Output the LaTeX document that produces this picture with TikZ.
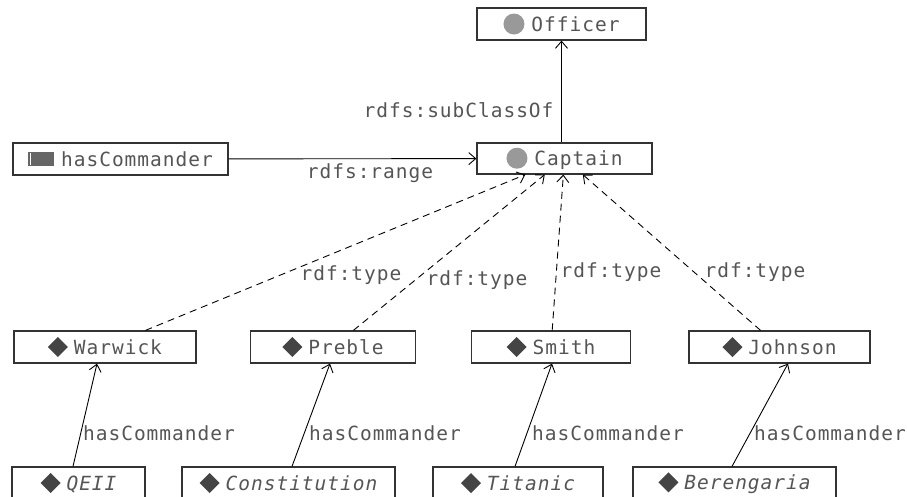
\documentclass[tikz,border=0pt]{standalone}
\usepackage{fontspec}
\setmonofont[LetterSpace=5]{DejaVu Sans Mono}
\usepackage{xcolor}
\usetikzlibrary{arrows.meta}

\definecolor{inkgray}{HTML}{555555}
\definecolor{boxgray}{HTML}{333333}
\definecolor{dotgray}{HTML}{999999}
\definecolor{diagray}{HTML}{444444}
\definecolor{rectgray}{HTML}{666666}

\newcommand{\classdot}{\tikz[baseline=-7pt]\fill[dotgray] (0pt,0pt) circle (10.5pt);}
\newcommand{\indivmark}{\tikz[baseline=-7pt]\fill[diagray] (0pt,10pt) -- (10pt,0pt) -- (0pt,-10pt) -- (-10pt,0pt) -- cycle;}
\newcommand{\propmark}{\tikz[baseline=-7pt]{\fill[rectgray] (0pt,-7pt) rectangle (26pt,7pt);
    \draw[white, line width=0.8pt] (2.6pt,-6pt) -- (2.6pt,6pt);}}

\begin{document}
\begin{tikzpicture}[x=1pt, y=-1pt,
    every node/.style={font=\ttfamily\fontsize{19.5}{23}\selectfont, text=inkgray},
    box/.style={draw=boxgray, line width=1.2pt, fill=white, inner sep=0pt, minimum height=32pt},
    link/.style={draw=black, line width=0.9pt, -{Straight Barb[length=7pt,width=12pt]}},
    typelink/.style={link, dash pattern=on 7pt off 5pt}]
    \useasboundingbox (0,0) rectangle (907,496);

    % classes and property
    \node[box, minimum width=169pt] (officer) at (561.5, 24) {\classdot\hspace{7pt}Officer};
    \node[box, minimum width=175pt, minimum height=31pt] (captain) at (564.5, 158.5) {\classdot\hspace{7pt}Captain};
    \node[box, minimum width=215pt] (hascmd) at (120.5, 159) {\propmark\hspace{7pt}hasCommander};

    % officers
    \node[box, minimum width=182pt] (warwick) at (105, 347) {\indivmark\hspace{6pt}Warwick};
    \node[box, minimum width=165pt] (preble) at (333, 347) {\indivmark\hspace{6pt}Preble};
    \node[box, minimum width=159pt] (smith) at (551, 347) {\indivmark\hspace{6pt}Smith};
    \node[box, minimum width=181pt] (johnson) at (779.5, 347) {\indivmark\hspace{6pt}Johnson};

    % ships
    \node[box, minimum width=133pt] (qeii) at (78.5, 483) {\indivmark\hspace{6pt}\itshape QEII};
    \node[box, minimum width=213pt] (constitution) at (288.5, 483) {\indivmark\hspace{6pt}\itshape Constitution};
    \node[box, minimum width=170pt] (titanic) at (518, 483) {\indivmark\hspace{6pt}\itshape Titanic};
    \node[box, minimum width=203pt] (berengaria) at (734.5, 483) {\indivmark\hspace{6pt}\itshape Berengaria};

    \draw[link] (officer.south |- captain.north) -- (officer.south);
    \draw[link] (hascmd) -- (captain);

    \draw[typelink] (warwick) -- (captain);
    \draw[typelink] (preble) -- (captain);
    \draw[typelink] (smith) -- (captain);
    \draw[typelink] (johnson) -- (captain);

    \draw[link] ([xshift=-5.5pt]qeii.north) -- ([xshift=-8pt]warwick.south);
    \draw[link] ([xshift=3.5pt]constitution.north) -- ([xshift=-3pt]preble.south);
    \draw[link] ([xshift=-3pt]titanic.north) -- ([xshift=1pt]smith.south);
    \draw[link] ([xshift=-2.5pt]berengaria.north) -- ([xshift=8.5pt]johnson.south);

    % labels
    \node[anchor=east] (subclasslbl) at (557, 110) {rdfs:subClassOf};
    \node (rangelbl) at (370, 173) {rdfs:range};
    \node (typelbla) at (351, 275) {rdf:type};
    \node (typelblb) at (477, 280) {rdf:type};
    \node (typelblc) at (611, 272) {rdf:type};
    \node (typelbld) at (755, 272) {rdf:type};
    \node (cmdlbla) at (159, 433) {hasCommander};
    \node (cmdlblb) at (385, 433) {hasCommander};
    \node (cmdlblc) at (608, 433) {hasCommander};
    \node (cmdlbld) at (830, 433) {hasCommander};
\end{tikzpicture}
\end{document}
